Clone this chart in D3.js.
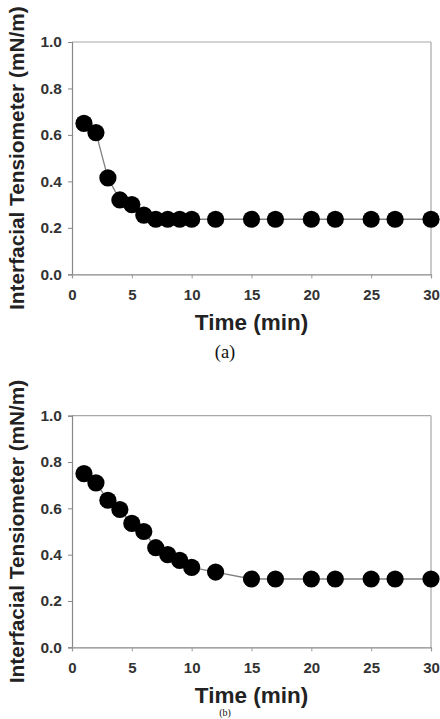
<!DOCTYPE html>
<html>
<head>
<meta charset="utf-8">
<script src="https://cdn.jsdelivr.net/npm/d3@7/dist/d3.min.js"></script>
<style>
  html, body { margin: 0; padding: 0; background: #fff; }
  svg { display: block; }
</style>
</head>
<body>
<svg id="chart" width="440" height="719"></svg>
<script>
// ---- data ----
const timeA = [1, 2, 3, 4, 5, 6, 7, 8, 9, 10, 12, 15, 17, 20, 22, 25, 27, 30];
const tensionA = [0.65, 0.61, 0.415, 0.32, 0.30, 0.255, 0.237, 0.237, 0.237, 0.237, 0.237, 0.237, 0.237, 0.237, 0.237, 0.237, 0.237, 0.237];
const timeB = [1, 2, 3, 4, 5, 6, 7, 8, 9, 10, 12, 15, 17, 20, 22, 25, 27, 30];
const tensionB = [0.75, 0.71, 0.635, 0.595, 0.535, 0.50, 0.43, 0.40, 0.375, 0.345, 0.325, 0.295, 0.295, 0.295, 0.295, 0.295, 0.295, 0.295];
const xTicks = [0, 5, 10, 15, 20, 25, 30];
const yTicks = [0.0, 0.2, 0.4, 0.6, 0.8, 1.0];
const xTitle = "Time (min)";
const yTitle = "Interfacial Tensiometer (mN/m)";
const captions = ["(a)", "(b)"];

const svg = d3.select("#chart");
const sans = "Arial, 'Liberation Sans', sans-serif";
const serif = "'Times New Roman', 'Liberation Serif', serif";

const panels = [
  { time: timeA, tension: tensionA, top: 42, bottom: 274.3, caption: captions[0], capY: 358, capSize: 18.5 },
  { time: timeB, tension: tensionB, top: 415.7, bottom: 647.3, caption: captions[1], capY: 716.4, capSize: 10 }
];

const left = 72, right = 431;

panels.forEach(p => {
  const x = d3.scaleLinear().domain([0, 30]).range([left, right]);
  const y = d3.scaleLinear().domain([0, 1]).range([p.bottom, p.top]);
  const g = svg.append("g");

  // frame (top & right, light gray)
  g.append("line").attr("x1", left).attr("x2", right).attr("y1", p.top).attr("y2", p.top)
    .attr("stroke", "#a8a8a8").attr("stroke-width", 1.2);
  g.append("line").attr("x1", right).attr("x2", right).attr("y1", p.top).attr("y2", p.bottom)
    .attr("stroke", "#b8b8b8").attr("stroke-width", 1.5);

  // y axis
  const ya = g.append("g").attr("transform", `translate(${left},0)`)
    .call(d3.axisLeft(y).tickValues(yTicks).tickSize(4).tickPadding(6).tickFormat(d3.format(".1f")));
  ya.select(".domain").attr("stroke", "#888").attr("stroke-width", 1.2);
  ya.selectAll(".tick line").attr("stroke", "#888");
  ya.selectAll(".tick text").attr("font-family", sans).attr("font-weight", "bold")
    .attr("font-size", 15.5).attr("fill", "#333");

  // x axis
  const xa = g.append("g").attr("transform", `translate(0,${p.bottom})`)
    .call(d3.axisBottom(x).tickValues(xTicks).tickSize(4).tickPadding(11));
  xa.select(".domain").attr("stroke", "#888").attr("stroke-width", 1.2);
  xa.selectAll(".tick line").attr("stroke", "#999");
  xa.selectAll(".tick text").attr("font-family", sans).attr("font-weight", "bold")
    .attr("font-size", 15).attr("fill", "#333");

  // line
  const pts = p.time.map((t, i) => [t, p.tension[i]]);
  g.append("path").datum(pts)
    .attr("fill", "none").attr("stroke", "#808080").attr("stroke-width", 1.3)
    .attr("d", d3.line().x(d => x(d[0])).y(d => y(d[1])));

  // markers
  g.selectAll("circle").data(pts).join("circle")
    .attr("cx", d => x(d[0])).attr("cy", d => y(d[1])).attr("r", 8.6)
    .attr("fill", "#000");

  // axis titles
  g.append("text").attr("x", (left + right) / 2).attr("y", p.bottom + 55.5)
    .attr("text-anchor", "middle").attr("font-family", sans).attr("font-weight", "bold")
    .attr("font-size", 22.5).attr("fill", "#222").text(xTitle);
  g.append("text")
    .attr("transform", `translate(24,${(p.top + p.bottom) / 2}) rotate(-90)`)
    .attr("text-anchor", "middle").attr("font-family", sans).attr("font-weight", "bold")
    .attr("font-size", 20.8).attr("fill", "#222").text(yTitle);

  // caption
  g.append("text").attr("x", 225).attr("y", p.capY)
    .attr("text-anchor", "middle").attr("font-family", serif)
    .attr("font-size", p.capSize).attr("fill", "#111").text(p.caption);
});
</script>
</body>
</html>
